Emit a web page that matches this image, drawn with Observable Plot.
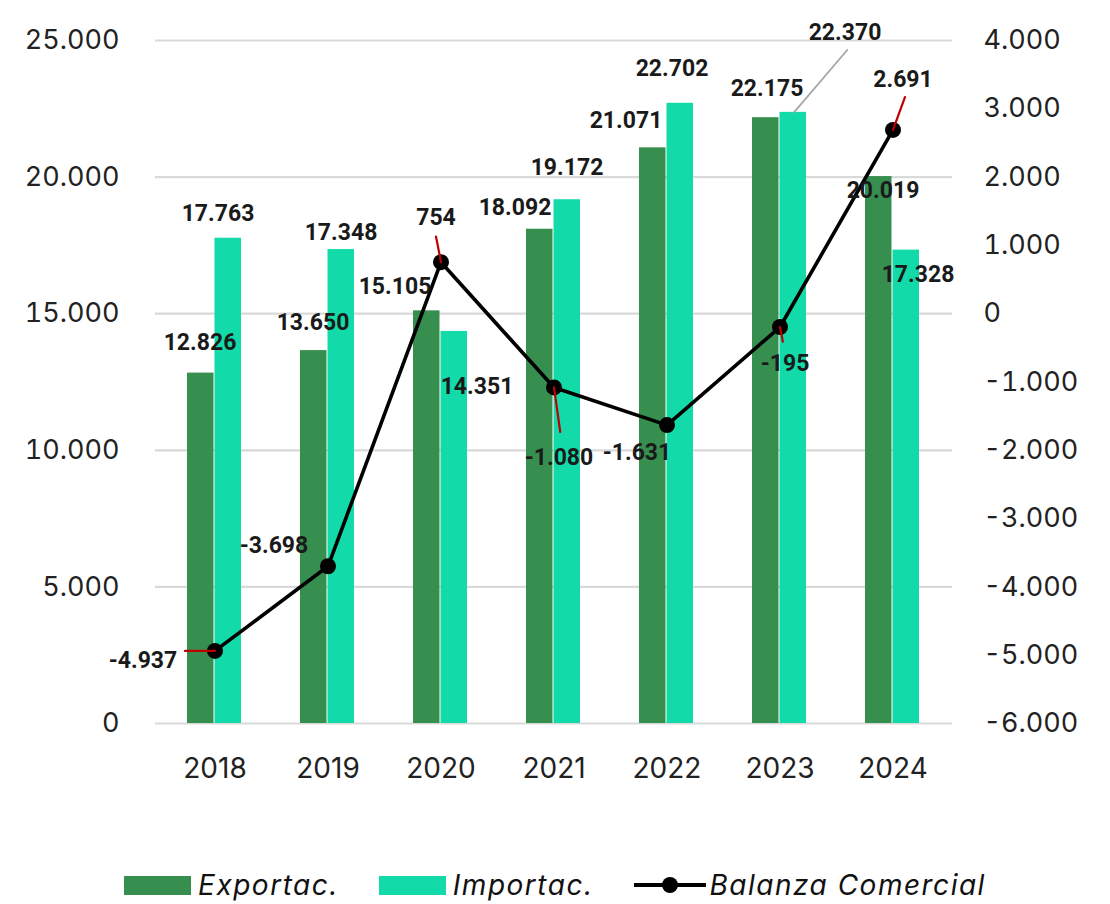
<!DOCTYPE html>
<html>
<head>
<meta charset="utf-8">
<script src="https://cdn.jsdelivr.net/npm/d3@7"></script>
<script src="https://cdn.jsdelivr.net/npm/@observablehq/plot@0.6"></script>
<style>
  html, body { margin: 0; padding: 0; background: #ffffff; }
  #chart { width: 1110px; }
  .legend { height: 54px; display: flex; justify-content: center; align-items: center; padding-top: 16px; box-sizing: border-box;
            font-family: Inter, "Open Sans", sans-serif; font-style: italic; font-size: 28px; line-height: 34px; letter-spacing: 1.5px; color: #111; }
  .legend .item { display: flex; align-items: center; margin: 0 20px; }
  .legend .sw { width: 67px; height: 19px; margin-right: 7px; }
  .legend svg { margin-right: 4px; }
</style>
</head>
<body>
<div id="chart"></div>
<div class="legend" id="legend"></div>
<script>
// ---- data ----
const years = ["2018", "2019", "2020", "2021", "2022", "2023", "2024"];
const exportac = [12826, 13650, 15105, 18092, 21071, 22175, 20019];
const importac = [17763, 17348, 14351, 19172, 22702, 22370, 17328];
const balanza = [-4937, -3698, 754, -1080, -1631, -195, 2691];
const leftTicks = [0, 5000, 10000, 15000, 20000, 25000];
const rightTicks = [-6000, -5000, -4000, -3000, -2000, -1000, 0, 1000, 2000, 3000, 4000];
const seriesNames = ["Exportac.", "Importac.", "Balanza Comercial"];

// ---- styling / annotation offsets (pixels) ----
const colExp = "#378f4f", colImp = "#12dba9";
const expOff = [[-15,-30],[-15,-28],[-46,-24],[-39,-22],[-41,-27],[-13,-29],[-10,14]];
const impOff = [[3,-25],[13,-17],[36,55],[13,-32],[5,-35],[65,-80],[25,25]];
const balOff = [[-72,10],[-54,-21],[-5,-45],[5,70],[-30,28],[5,37],[10,-50]];
// leader lines: [index, rotate(deg), length(px), dx, color]
const leaders = [[0,-90,30,0,"#c00000"],[2,-11,26,0,"#c00000"],[3,172,45,0,"#c00000"],[5,169,15,0,"#c00000"],[6,20,35,0,"#c00000"]];
const impLeader = [5, 40.5, 82, 14, "#a6a6a6"];

// right-axis (balanza) mapped into left-axis units
const rMin = -6000, rMax = 4000, lMax = 25000;
const toLeft = b => (b - rMin) * lMax / (rMax - rMin);
const fromLeft = v => v * (rMax - rMin) / lMax + rMin;

const fmt = d3.formatLocale({decimal: ",", thousands: ".", grouping: [3], currency: ["", ""], minus: "-"}).format(",d");

const rows = years.map((y, i) => ({year: y, exp: exportac[i], imp: importac[i], bal: balanza[i]}));

const lblFont = "Roboto, 'Liberation Sans', sans-serif";
const labelMarks = [];
rows.forEach((d, i) => {
  labelMarks.push(Plot.text([d], {x: "year", y: "exp", text: r => fmt(r.exp), dx: expOff[i][0], dy: expOff[i][1],
    fontSize: 23, fontWeight: 700, fontFamily: lblFont, fill: "#1a1a1a"}));
  labelMarks.push(Plot.text([d], {x: "year", y: "imp", text: r => fmt(r.imp), dx: impOff[i][0], dy: impOff[i][1],
    fontSize: 23, fontWeight: 700, fontFamily: lblFont, fill: "#1a1a1a"}));
  labelMarks.push(Plot.text([d], {x: "year", y: r => toLeft(r.bal), text: r => fmt(r.bal), dx: balOff[i][0], dy: balOff[i][1],
    fontSize: 23, fontWeight: 700, fontFamily: lblFont, fill: "#1a1a1a"}));
});

const lineShape = {draw(context, l) { context.moveTo(0, 0); context.lineTo(0, -l); }};
const leaderMarks = leaders.map(([i, rot, len, dx, col]) =>
  Plot.vector([rows[i]], {x: "year", y: r => toLeft(r.bal), rotate: rot, length: len, dx, anchor: "start",
    shape: lineShape, stroke: col, strokeWidth: 2.2}));
const impLeaderMark = Plot.vector([rows[impLeader[0]]], {x: "year", y: "imp", rotate: impLeader[1], length: impLeader[2],
  dx: impLeader[3], anchor: "start", shape: lineShape, stroke: impLeader[4], strokeWidth: 1.8});

const chart = Plot.plot({
  width: 1110,
  height: 850,
  marginLeft: 155,
  marginRight: 158,
  marginTop: 40,
  marginBottom: 127,
  style: {fontFamily: "Inter, 'Open Sans', sans-serif", fontSize: "27px", color: "#222", background: "transparent"},
  x: {type: "band", domain: years, padding: 0, label: null},
  y: {domain: [0, lMax], label: null},
  marks: [
    Plot.gridY(leftTicks, {stroke: "#d9d9d9", strokeWidth: 2.2, strokeOpacity: 1}),
    Plot.axisY({ticks: leftTicks, tickFormat: fmt, tickSize: 0, tickPadding: 36, label: null, anchor: "left"}),
    Plot.axisY({ticks: rightTicks.map(toLeft), tickFormat: v => fmt(Math.round(fromLeft(v))), tickSize: 0, tickPadding: 31, label: null, anchor: "right"}),
    Plot.axisX({tickSize: 0, tickPadding: 35, label: null, fontSize: 28}),
    Plot.barY(rows, {x: "year", y: "exp", fill: colExp, insetLeft: 29, insetRight: 57.5}),
    Plot.barY(rows, {x: "year", y: "imp", fill: colImp, insetLeft: 56.5, insetRight: 30}),
    Plot.line(rows, {x: "year", y: r => toLeft(r.bal), stroke: "#000", strokeWidth: 3.6}),
    Plot.dot(rows, {x: "year", y: r => toLeft(r.bal), r: 8, fill: "#000", stroke: "none"}),
    ...leaderMarks,
    impLeaderMark,
    ...labelMarks
  ]
});
document.getElementById("chart").appendChild(chart);

// legend
const legend = document.getElementById("legend");
[[seriesNames[0], "rect", colExp], [seriesNames[1], "rect", colImp], [seriesNames[2], "line", "#000"]].forEach(([name, kind, col]) => {
  const item = document.createElement("div");
  item.className = "item";
  if (kind === "rect") {
    const sw = document.createElement("div");
    sw.className = "sw";
    sw.style.background = col;
    item.appendChild(sw);
  } else {
    const ns = "http://www.w3.org/2000/svg";
    const s = document.createElementNS(ns, "svg");
    s.setAttribute("width", 72); s.setAttribute("height", 22);
    const ln = document.createElementNS(ns, "line");
    ln.setAttribute("x1", 0); ln.setAttribute("x2", 72); ln.setAttribute("y1", 11); ln.setAttribute("y2", 11);
    ln.setAttribute("stroke", col); ln.setAttribute("stroke-width", 4);
    const c = document.createElementNS(ns, "circle");
    c.setAttribute("cx", 36); c.setAttribute("cy", 11); c.setAttribute("r", 8); c.setAttribute("fill", col);
    s.appendChild(ln); s.appendChild(c);
    item.appendChild(s);
  }
  const t = document.createElement("span");
  t.textContent = name;
  item.appendChild(t);
  legend.appendChild(item);
});
</script>
</body>
</html>
